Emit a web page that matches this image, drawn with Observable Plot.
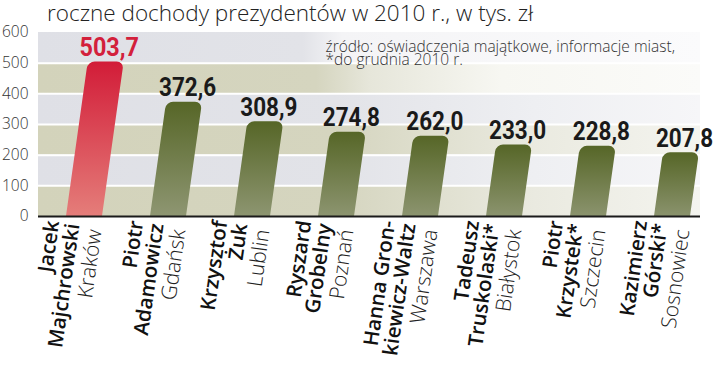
<!DOCTYPE html>
<html><head><meta charset="utf-8">
<script src="https://cdn.jsdelivr.net/npm/d3@7"></script>
<script src="https://cdn.jsdelivr.net/npm/@observablehq/plot@0.6"></script>
<style>
html,body{margin:0;padding:0;background:#fff;}
#title{font-family:"Open Sans",sans-serif;font-weight:300;font-size:22.5px;line-height:26px;height:26px;padding-left:47px;color:#222;white-space:nowrap;}
#chart svg{display:block;}
</style></head><body>
<div id="title"></div>
<div id="chart"></div>
<script>
const titleText = "roczne dochody prezydentów w 2010 r., w tys. zł";
const noteText = "źródło: oświadczenia majątkowe, informacje miast,\n*do grudnia 2010 r.";
const cities = ["Kraków","Gdańsk","Lublin","Poznań","Warszawa","Białystok","Szczecin","Sosnowiec"];
const names = ["Jacek\nMajchrowski","Piotr\nAdamowicz","Krzysztof\nŻuk","Ryszard\nGrobelny","Hanna Gron-\nkiewicz-Waltz","Tadeusz\nTruskolaski*","Piotr\nKrzystek*","Kazimierz\nGórski*"];
const incomes = [503.7,372.6,308.9,274.8,262.0,233.0,228.8,207.8];
const highlighted = ["Kraków"];
const yTicks = [0,100,200,300,400,500,600];

document.getElementById("title").textContent = titleText;

const fmt = v => v.toFixed(1).replace(".", ",");
const rows = cities.map((c, i) => ({city: c, name: names[i], value: incomes[i], label: fmt(incomes[i]), hl: highlighted.includes(c)}));
const bands = yTicks.slice(0, -1).map((t, i) => ({lo: t, hi: yTicks[i + 1], i}));
const lowBands = bands.slice(0, -2), topBands = bands.slice(-2);

const SLANT = 8;
const K = Math.tan(SLANT * Math.PI / 180);
const SX = 0.9;
const numFont = "Roboto,'Liberation Sans',sans-serif";
const txtFont = "'Open Sans',sans-serif";

const plot = Plot.plot({
  width: 720, height: 342,
  marginTop: 6, marginBottom: 152, marginLeft: 38, marginRight: 20,
  style: {fontFamily: txtFont, fontSize: "15.5px", fontWeight: 300, color: "#333", background: "transparent", overflow: "visible"},
  x: {domain: cities, paddingInner: 0.575, paddingOuter: 0.196, align: 0.73, axis: null},
  y: {domain: [0, 600], ticks: yTicks, tickSize: 0, tickPadding: 10, label: null, tickFormat: d => String(d)},
  marks: [
    Plot.rect(lowBands.filter(b => b.i % 2 === 0), {y1: "lo", y2: "hi", fill: "url(#bgBeige)"}),
    Plot.rect(lowBands.filter(b => b.i % 2 === 1), {y1: "lo", y2: "hi", fill: "url(#bgGray)"}),
    Plot.rect(topBands.filter(b => b.i % 2 === 0), {y1: "lo", y2: "hi", fill: "url(#bgBeigeTop)"}),
    Plot.rect(topBands.filter(b => b.i % 2 === 1), {y1: "lo", y2: "hi", fill: "url(#bgGrayTop)"}),
    Plot.ruleY(yTicks.slice(1, -1), {stroke: "#ffffff", strokeWidth: 2}),
    Plot.barY(rows.filter(d => !d.hl), {x: "city", y: "value", fill: "url(#barOlive)", rx: 7}),
    Plot.barY(rows.filter(d => d.hl), {x: "city", y: "value", fill: "url(#barRed)", rx: 7}),
    Plot.ruleY([0], {stroke: "#1b1b1b", strokeWidth: 2}),
    Plot.text(rows.filter(d => !d.hl), {x: "city", y: "value", text: "label", fill: "#1a1a1a", fontFamily: numFont, fontWeight: "bold", fontSize: 25, lineAnchor: "bottom", dy: -6}),
    Plot.text(rows.filter(d => d.hl), {x: "city", y: "value", text: "label", fill: "#d3203b", fontFamily: numFont, fontWeight: "bold", fontSize: 26, lineAnchor: "bottom", dy: -6}),
    Plot.text(rows, {x: "city", text: "name", frameAnchor: "bottom", rotate: -(90 - SLANT), textAnchor: "end", lineAnchor: "bottom", lineHeight: 1.0, dx: -5, dy: 8, fontSize: 20.5, fontWeight: 600, fill: "#111"}),
    Plot.text(rows, {x: "city", text: "city", frameAnchor: "bottom", rotate: -(90 - SLANT), textAnchor: "end", lineAnchor: "bottom", dx: 17, dy: 14, fontSize: 21, fontWeight: 300, fill: "#222"}),
    Plot.text([noteText], {frameAnchor: "top", text: d => d, textAnchor: "start", lineAnchor: "top", lineHeight: 0.86, dx: -44, dy: 10, fontSize: 15.5, fontWeight: 300, fill: "#333"})
  ]
});
document.getElementById("chart").appendChild(plot);

// decorations: gradients, slant and clipping
const svg = d3.select(plot);
const ys = plot.scale("y");
const y0 = ys.apply(0);
const defs = svg.insert("defs", ":first-child");
function grad(id, attrs, stops) {
  const g = defs.append("linearGradient").attr("id", id);
  Object.entries(attrs).forEach(([k, v]) => g.attr(k, v));
  stops.forEach(([o, c]) => g.append("stop").attr("offset", o).attr("stop-color", c));
}
const H = {gradientUnits: "userSpaceOnUse", x1: 38, x2: 700, y1: 0, y2: 0};
grad("bgBeige", H, [[0, "#d3d3bb"], [0.45, "#d5d5bf"], [0.75, "#eaeae0"], [1, "#f4f4ef"]]);
grad("bgGray", H, [[0, "#dfe0e6"], [0.45, "#e2e3e8"], [0.75, "#eeeff2"], [1, "#f6f6f8"]]);
grad("bgBeigeTop", H, [[0, "#d3d3bb"], [0.42, "#d5d5bf"], [0.5, "#e6e6da"], [0.7, "#f7f7f2"], [1, "#fbfbf9"]]);
grad("bgGrayTop", H, [[0, "#dfe0e6"], [0.4, "#e2e3e8"], [0.46, "#f4f4f6"], [1, "#fbfbfc"]]);
const V = {x1: 0, x2: 0, y1: 0, y2: 1};
grad("barRed", V, [[0, "#d21c38"], [1, "#e6857f"]]);
grad("barOlive", V, [[0, "#566627"], [1, "#949b7a"]]);
defs.append("clipPath").attr("id", "barClip").append("rect")
  .attr("x", 0).attr("y", 0).attr("width", 720).attr("height", y0);

svg.selectAll('g[aria-label="bar"]').attr("clip-path", "url(#barClip)").selectAll("rect").each(function () {
  const r = d3.select(this);
  r.attr("height", +r.attr("height") + 12)
   .attr("transform", `translate(${K * y0},0) skewX(${-SLANT})`);
});

const labelValue = new Map(rows.map(d => [d.label, d.value]));
svg.selectAll("text").each(function () {
  if (this.children.length) return;
  const v = labelValue.get(this.textContent);
  if (v === undefined) return;
  const shift = K * (y0 - ys.apply(v)) + 3;
  let t = this.getAttribute("transform") || "";
  if (!/translate/.test(t)) {
    const x = +(this.getAttribute("x") || 0), y = +(this.getAttribute("y") || 0);
    this.removeAttribute("x"); this.removeAttribute("y");
    t = `translate(${x},${y}) ${t}`;
  }
  this.setAttribute("transform", `translate(${shift},0) ${t} scale(${SX},1)`);
});
</script>
</body></html>
